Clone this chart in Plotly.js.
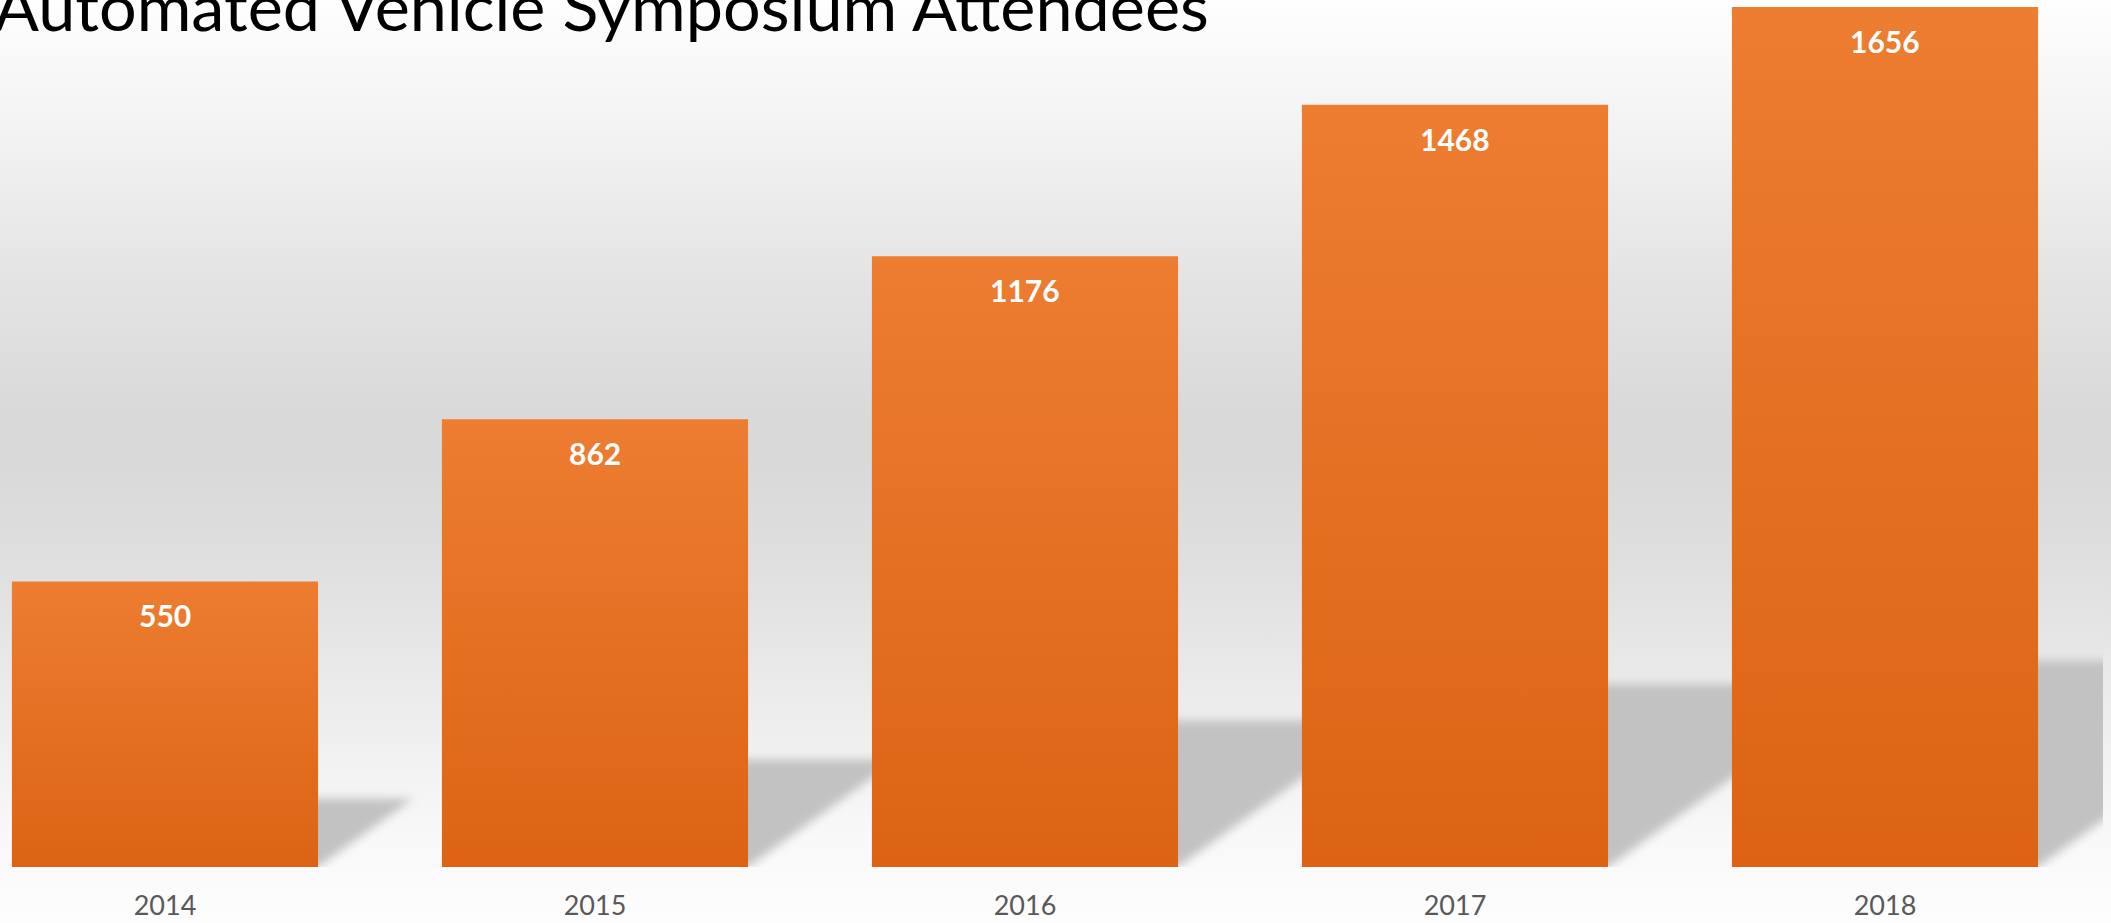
<!DOCTYPE html>
<html>
<head>
<meta charset="utf-8">
<script src="https://cdn.plot.ly/plotly-3.0.1.min.js"></script>
<style>
  html, body { margin: 0; padding: 0; }
  #chart {
    width: 2111px; height: 923px;
    background: linear-gradient(to bottom, #fefefe 0%, #f2f2f2 15%, #e4e4e4 30%, #d9d9d9 45%, #d9d9d9 50%, #dfdfdf 61%, #ececec 76%, #f8f8f8 90%, #fdfdfd 100%);
  }
</style>
</head>
<body>
<div id="chart"></div>
<script>
// ---- data ----
const years = ['2014', '2015', '2016', '2017', '2018'];
const attendees = [550, 862, 1176, 1468, 1656];
const positions = [0, 1, 2, 3, 4];
const chartTitle = 'Automated Vehicle Symposium Attendees';

// ---- geometry helpers ----
const W = 2111, H = 923;
const margin = {l: 0, r: 8, t: 0, b: 56};
const xRange = [-0.3837, 4.507];
const yRange = [0, 1669.5];
const barWidth = 0.712;
const pxPerX = (W - margin.l - margin.r) / (xRange[1] - xRange[0]);
const pxPerY = (H - margin.t - margin.b) / (yRange[1] - yRange[0]);
const shadowHeightRatio = 0.24;
const shadowSlope = 1.39;

const shapes = attendees.map((v, i) => {
  const x0 = positions[i] - barWidth / 2, x1 = positions[i] + barWidth / 2;
  const h = v * shadowHeightRatio;
  const dx = (h * pxPerY * shadowSlope) / pxPerX;
  return {
    type: 'path', xref: 'x', yref: 'y', layer: 'below',
    path: `M ${x0} 0 L ${x1} 0 L ${x1 + dx} ${h} L ${x0 + dx} ${h} Z`,
    fillcolor: '#c2c2c2', line: {width: 0}
  };
});

const annotations = attendees.map((v, i) => ({
  x: positions[i], y: v, xref: 'x', yref: 'y',
  text: String(v), showarrow: false,
  yanchor: 'middle', yshift: -34,
  font: {family: 'Lato, sans-serif', size: 30, weight: 700, color: '#ffffff'}
}));
annotations.push({
  xref: 'paper', yref: 'paper', x: -0.004, y: 1, xanchor: 'left', yanchor: 'middle', yshift: -5,
  text: chartTitle, showarrow: false,
  font: {family: 'Lato, sans-serif', size: 66.5, weight: 400, color: '#000000'}
});

const trace = {
  type: 'bar', x: positions, y: attendees,
  marker: {color: '#e67328', line: {width: 0}},
  hoverinfo: 'skip'
};

const layout = {
  width: W, height: H, margin: margin,
  paper_bgcolor: 'rgba(0,0,0,0)', plot_bgcolor: 'rgba(0,0,0,0)',
  bargap: 1 - barWidth, showlegend: false,
  xaxis: {range: xRange, tickvals: positions, ticktext: years, showgrid: false, zeroline: false,
          showline: false, ticks: '', ticklabelstandoff: 20,
          tickfont: {family: 'Lato, sans-serif', size: 27, color: '#595959'}},
  yaxis: {range: yRange, visible: false, showgrid: false, zeroline: false},
  shapes: shapes, annotations: annotations
};

Plotly.newPlot('chart', [trace], layout, {staticPlot: true}).then(gd => {
  const svg = gd.querySelector('.main-svg');
  const NS = 'http://www.w3.org/2000/svg';
  const defs = document.createElementNS(NS, 'defs');
  svg.insertBefore(defs, svg.firstChild);
  const grad = document.createElementNS(NS, 'linearGradient');
  grad.setAttribute('id', 'barGrad');
  grad.setAttribute('x1', '0'); grad.setAttribute('y1', '0');
  grad.setAttribute('x2', '0'); grad.setAttribute('y2', '1');
  [['0', '#ed7d31'], ['1', '#dc6314']].forEach(([o, c]) => {
    const s = document.createElementNS(NS, 'stop');
    s.setAttribute('offset', o); s.setAttribute('stop-color', c);
    grad.appendChild(s);
  });
  defs.appendChild(grad);
  const filt = document.createElementNS(NS, 'filter');
  filt.setAttribute('id', 'shadowBlur');
  filt.setAttribute('x', '-20%'); filt.setAttribute('y', '-20%');
  filt.setAttribute('width', '140%'); filt.setAttribute('height', '140%');
  const blur = document.createElementNS(NS, 'feGaussianBlur');
  blur.setAttribute('stdDeviation', '5');
  filt.appendChild(blur);
  defs.appendChild(filt);
  gd.querySelectorAll('.trace.bars .point path').forEach(p => { p.style.fill = 'url(#barGrad)'; });
  gd.querySelectorAll('.shapelayer path').forEach(p => {
    const g = document.createElementNS(NS, 'g');
    g.setAttribute('filter', 'url(#shadowBlur)');
    p.parentNode.insertBefore(g, p);
    g.appendChild(p);
  });
});
</script>
</body>
</html>
